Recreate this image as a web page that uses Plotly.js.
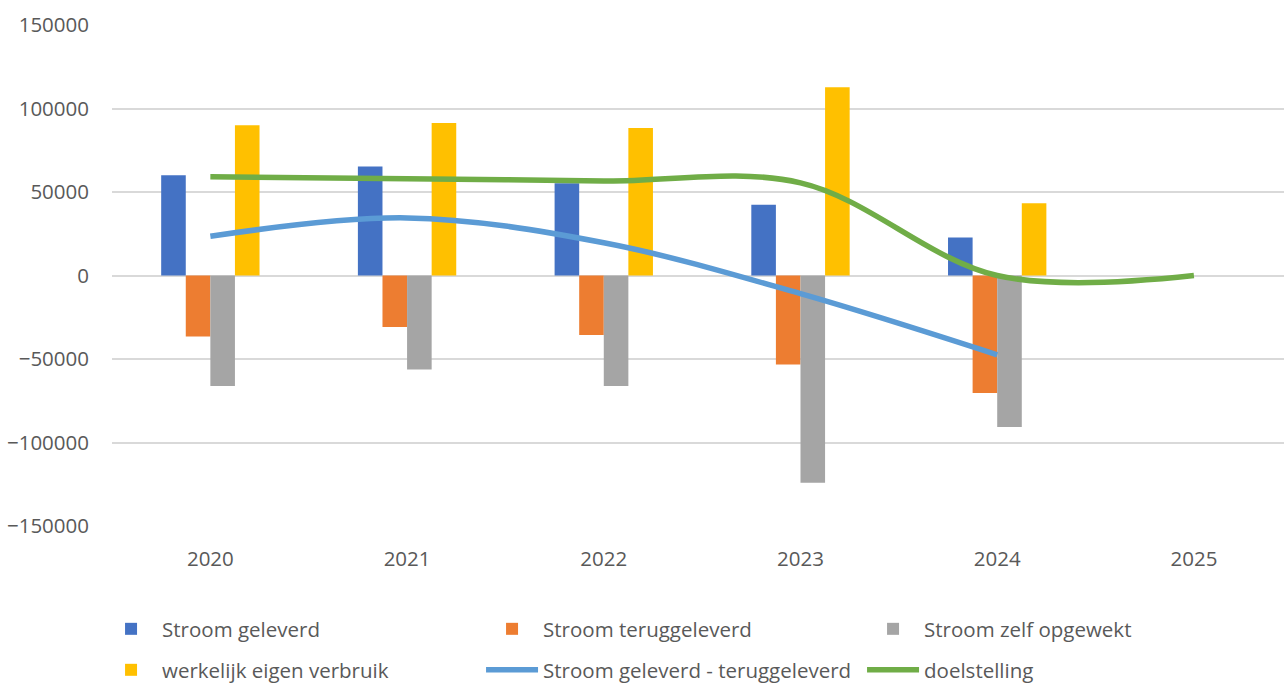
<!DOCTYPE html>
<html>
<head>
<meta charset="utf-8">
<script src="https://cdn.plot.ly/plotly-3.0.1.min.js"></script>
<style>html,body{margin:0;padding:0;background:#fff;}#chart{width:1284px;height:684px;}</style>
</head>
<body>
<div id="chart"></div>
<script>
const years = ['2020', '2021', '2022', '2023', '2024', '2025'];
const stroomGeleverd = [60000, 65300, 55200, 42400, 22800, null];
const stroomTeruggeleverd = [-36600, -30800, -35600, -53300, -70300, null];
const stroomZelfOpgewekt = [-66100, -56300, -66100, -124100, -90700, null];
const werkelijkEigenVerbruik = [89900, 91300, 88300, 112700, 43200, null];
const geleverdMinTeruggeleverd = [23500, 34500, 19600, -10900, -47500, null];
const doelstelling = [59100, 58000, 56600, 55500, 0, 0];

const textColor = '#595959';
const legendFont = {family: 'Open Sans, sans-serif', size: 20.5, color: textColor};

const traces = [
  {type: 'bar', name: 'Stroom geleverd', x: years, y: stroomGeleverd, marker: {color: '#4472C4'}, legend: 'legend'},
  {type: 'bar', name: 'Stroom teruggeleverd', x: years, y: stroomTeruggeleverd, marker: {color: '#ED7D31'}, legend: 'legend'},
  {type: 'bar', name: 'Stroom zelf opgewekt', x: years, y: stroomZelfOpgewekt, marker: {color: '#A5A5A5'}, legend: 'legend'},
  {type: 'bar', name: 'werkelijk eigen verbruik', x: years, y: werkelijkEigenVerbruik, marker: {color: '#FFC000'}, legend: 'legend2'},
  {type: 'scatter', mode: 'lines', name: 'Stroom geleverd - teruggeleverd', x: years, y: geleverdMinTeruggeleverd,
   line: {color: '#5B9BD5', width: 5.5, shape: 'spline', smoothing: 1}, legend: 'legend2'},
  {type: 'scatter', mode: 'lines', name: 'doelstelling', x: years, y: doelstelling,
   line: {color: '#70AD47', width: 5.5, shape: 'spline', smoothing: 1}, legend: 'legend2'}
];

const legendBase = {
  orientation: 'h', xanchor: 'left', yanchor: 'middle', itemwidth: 52,
  entrywidth: 314, entrywidthmode: 'pixels', font: legendFont,
  bgcolor: 'rgba(0,0,0,0)', traceorder: 'normal'
};

const layout = {
  width: 1284, height: 684,
  margin: {l: 112, r: 0, t: 25, b: 158, autoexpand: false},
  paper_bgcolor: '#ffffff', plot_bgcolor: '#ffffff',
  barmode: 'group', bargap: 0.5, bargroupgap: 0,
  font: {family: 'Open Sans, sans-serif', size: 20.5, color: textColor},
  xaxis: {
    type: 'category', range: [-0.5, 5.458], showgrid: false, zeroline: false,
    showline: false, ticks: '', tickfont: {size: 20.5, color: textColor}, ticklabelstandoff: 18
  },
  yaxis: {
    range: [-150000, 150000], dtick: 50000, tickformat: 'd',
    showgrid: true, gridcolor: '#D9D9D9', gridwidth: 2,
    zeroline: true, zerolinecolor: '#D9D9D9', zerolinewidth: 2,
    showline: false, ticks: '', tickfont: {size: 20.5, color: textColor}, ticklabelstandoff: 22
  },
  legend: Object.assign({}, legendBase, {x: -0.0102, y: -0.2056}),
  legend2: Object.assign({}, legendBase, {x: -0.0102, y: -0.2874}),
  showlegend: true
};

Plotly.newPlot('chart', traces, layout, {displayModeBar: false, staticPlot: true});
</script>
</body>
</html>
